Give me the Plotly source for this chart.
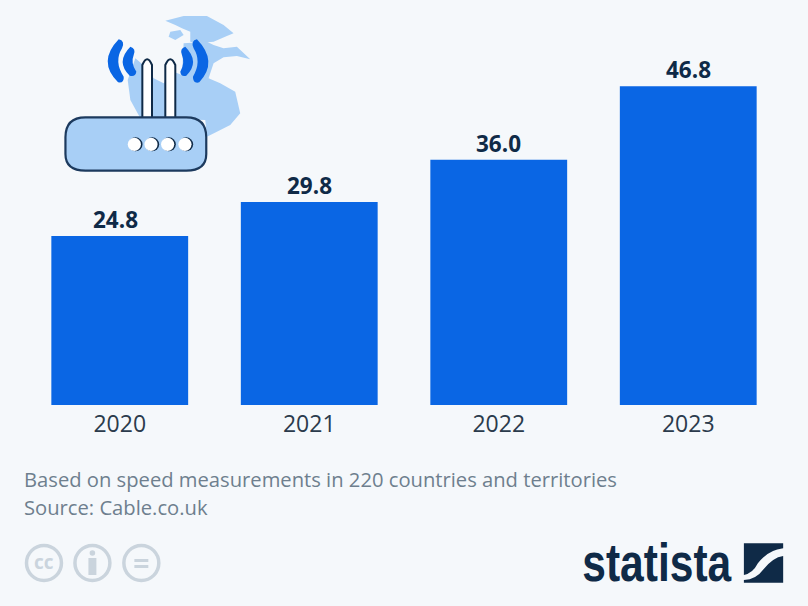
import plotly.graph_objects as go

years = ["2020", "2021", "2022", "2023"]
speeds = [24.8, 29.8, 36.0, 46.8]
speed_labels = ["24.8", "29.8", "36.0", "46.8"]
footer_lines = ["Based on speed measurements in 220 countries and territories", "Source: Cable.co.uk"]

W, H = 808, 606
BG = "#f5f8fb"
BLUE = "#0a66e4"
LIGHT = "#a8cff6"
NAVY = "#0f2a47"
GREY = "#6e7f8e"
CC = "#cad4dd"

L, R, T, B = 24.5, 24.5, 40, 201


def px(x):
    return (x - L) / (W - L - R)


def py(y):
    return 1 - (y - T) / (H - T - B)


def icon(x, y):
    # router/globe icon was measured on a 3x zoom starting at x=50
    return px(50 + x / 3), py(y / 3)


def flag(x, y):
    return px(560 + x / 3), py(520 + y / 3)


def poly(points, conv=icon):
    out = []
    for i, (x, y) in enumerate(points):
        a, b = conv(x, y)
        out.append(("M" if i == 0 else "L") + f"{a:.5f},{b:.5f}")
    return " ".join(out) + " Z"


def curve(start, segs, conv=icon):
    a, b = conv(*start)
    s = f"M{a:.5f},{b:.5f}"
    for c, e in segs:
        c1, c2 = conv(*c)
        e1, e2 = conv(*e)
        s += f" Q{c1:.5f},{c2:.5f} {e1:.5f},{e2:.5f}"
    return s + " Z"


def shape_path(d, fill, line=None, width=0):
    return dict(type="path", path=d, xref="paper", yref="paper", fillcolor=fill,
                line=dict(color=line or fill, width=width), layer="above")


def circle(cx, cy, r, fill, line=None, width=0):
    return dict(type="circle", xref="paper", yref="paper", x0=px(cx - r), x1=px(cx + r),
                y0=py(cy + r), y1=py(cy - r), fillcolor=fill,
                line=dict(color=line or fill, width=width), layer="above")


def rect(x0, y0, x1, y1, fill):
    return dict(type="rect", xref="paper", yref="paper", x0=px(x0), x1=px(x1),
                y0=py(y1), y1=py(y0), fillcolor=fill, line=dict(width=0), layer="above")


shapes = []

# globe
shapes.append(shape_path(poly([(345, 62), (400, 48), (470, 48), (520, 75), (550, 100), (530, 108), (490, 125),
                               (440, 130), (420, 125), (420, 95), (395, 85), (375, 75)]), LIGHT))
shapes.append(shape_path(poly([(360, 95), (390, 90), (400, 105), (375, 120), (355, 110)]), LIGHT))
shapes.append(shape_path(poly([(400, 130), (470, 125), (490, 135), (520, 145), (560, 140), (600, 178), (560, 168),
                               (520, 172), (490, 190), (475, 235), (510, 250), (555, 275), (570, 340), (540, 375),
                               (500, 395), (470, 410), (465, 360), (270, 355), (240, 300), (232, 240), (255, 175),
                               (285, 200), (310, 235), (340, 250), (370, 215), (395, 225)]), LIGHT))

# signal arcs
shapes.append(shape_path(curve((205, 118), [((225, 122), (215, 145)), ((190, 185), (220, 230)),
                                            ((222, 250), (203, 247)), ((140, 185), (205, 118))]), BLUE))
shapes.append(shape_path(curve((240, 140), [((258, 145), (250, 165)), ((240, 190), (258, 215)),
                                            ((255, 232), (238, 227)), ((195, 185), (240, 140))]), BLUE))
shapes.append(shape_path(curve((440, 118), [((420, 122), (430, 145)), ((455, 185), (428, 230)),
                                            ((428, 252), (447, 247)), ((505, 185), (440, 118))]), BLUE))
shapes.append(shape_path(curve((405, 140), [((387, 145), (395, 165)), ((405, 190), (390, 215)),
                                            ((392, 232), (408, 227)), ((450, 185), (405, 140))]), BLUE))

# antennas
for x0, x1 in [(276, 305), (345, 375)]:
    xm = (x0 + x1) / 2
    shapes.append(shape_path(curve((x0, 355), [((x0, 270), (x0, 195)), ((xm, 160), (x1, 195)), ((x1, 270), (x1, 355))]),
                             "white", NAVY, 2))

# router body
r0, r1, t0, t1 = 45, 468, 352, 512
shapes.append(shape_path(curve((r0 + 60, t0), [(((r0 + r1) / 2, t0), (r1 - 60, t0)), ((r1, t0), (r1, t0 + 60)),
                                               ((r1, (t0 + t1) / 2), (r1, t1 - 50)), ((r1, t1), (r1 - 60, t1)),
                                               (((r0 + r1) / 2, t1), (r0 + 60, t1)), ((r0, t1), (r0, t1 - 50)),
                                               ((r0, (t0 + t1) / 2), (r0, t0 + 60)), ((r0, t0), (r0 + 60, t0))]),
                         LIGHT, "#1c3a5e", 2.2))

# router lights
for cx in [252, 302, 352, 404]:
    x = 50 + cx / 3
    shapes.append(circle(x + 1.2, 433 / 3, 7, NAVY))
    shapes.append(circle(x, 433 / 3, 6.6, "white"))

# licence icons
for cx in [43.5, 92, 141]:
    shapes.append(circle(cx, 563, 17.5, "rgba(0,0,0,0)", CC, 3.5))
shapes.append(circle(92, 553, 2.8, CC))
shapes.append(rect(88, 558, 96, 575, CC))
shapes.append(rect(134, 559, 148, 562, CC))
shapes.append(rect(134, 565, 148, 568, CC))

# statista flag
shapes.append(shape_path(curve((553, 70), [((612, 70), (671, 70)), ((671, 78), (671, 85)), ((625, 90), (595, 130)),
                                           ((580, 160), (553, 165)), ((553, 120), (553, 70))], conv=flag), NAVY))
shapes.append(shape_path(curve((671, 108), [((640, 112), (610, 150)), ((590, 178), (553, 180)), ((553, 184), (553, 188)),
                                            ((612, 188), (671, 188)), ((671, 150), (671, 108))], conv=flag), NAVY))

annotations = []
for i, (speed, label) in enumerate(zip(speeds, speed_labels)):
    # the first label sits a little left of its bar in the original
    annotations.append(dict(text=label, x=i, y=speed, xref="x", yref="y", yanchor="bottom", showarrow=False,
                            xshift=-4 if i == 0 else 0, yshift=-1,
                            font=dict(family="Open Sans", size=22.5, color=NAVY, weight=700)))
for line, y in zip(footer_lines, [479, 507]):
    annotations.append(dict(text=line, xref="paper", yref="paper", x=px(21), y=py(y), xanchor="left", yanchor="middle",
                            showarrow=False, font=dict(family="Open Sans", size=20.2, color=GREY)))
annotations.append(dict(text="<b>cc</b>", xref="paper", yref="paper", x=px(43.5), y=py(562), xanchor="center",
                        yanchor="middle", showarrow=False, font=dict(family="Open Sans", size=19, color=CC)))
annotations.append(dict(text="<b>statista</b>", xref="paper", yref="paper", x=px(657.5), y=py(562), xanchor="center",
                        yanchor="middle", showarrow=False,
                        font=dict(family="Liberation Sans", size=53, color=NAVY)))

fig = go.Figure()
fig.add_trace(go.Bar(x=years, y=speeds, cliponaxis=False, marker=dict(color=BLUE, line=dict(width=0))))
fig.update_layout(width=W, height=H, margin=dict(l=L, r=R, t=T, b=B), paper_bgcolor=BG, plot_bgcolor=BG,
                  bargap=0.278, showlegend=False, shapes=shapes, annotations=annotations)
fig.update_xaxes(type="category", range=[-0.5, 3.5], showgrid=False, zeroline=False, showline=False, ticks="",
                 ticklabelstandoff=3, tickfont=dict(family="Open Sans", size=23, color="#2b3b4c"))
fig.update_yaxes(visible=False, range=[0, 53.6])

# squeeze the logo word to the condensed width of the original
post = """
document.body.style.margin='0';
document.body.style.background='%s';
document.querySelectorAll('.annotation-text').forEach(function(t){
  if (t.textContent === 'statista') {
    t.setAttribute('textLength', '149');
    t.setAttribute('lengthAdjust', 'spacingAndGlyphs');
  }
});
""" % BG

fig.write_html("out.html", post_script=post, config={"displayModeBar": False})
